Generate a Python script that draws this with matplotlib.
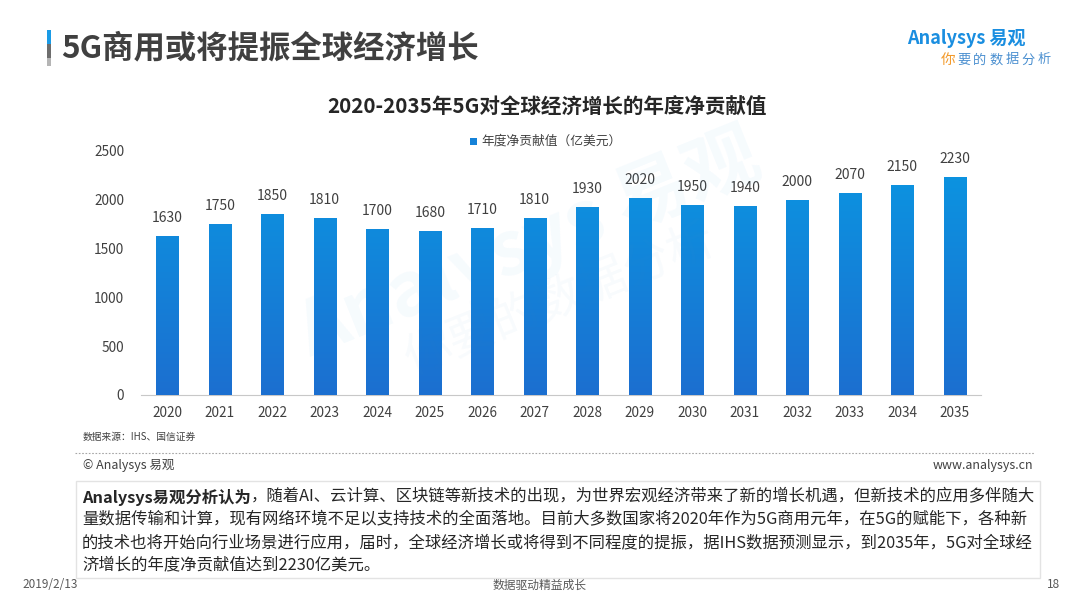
import matplotlib.pyplot as plt
import numpy as np
from matplotlib.colors import LinearSegmentedColormap
from matplotlib.patches import Rectangle
from matplotlib.lines import Line2D

plt.rcParams['font.family'] = ['Noto Sans CJK SC', 'DejaVu Sans']

years = ['2020', '2021', '2022', '2023', '2024', '2025', '2026', '2027',
         '2028', '2029', '2030', '2031', '2032', '2033', '2034', '2035']
values = [1630, 1750, 1850, 1810, 1700, 1680, 1710, 1810,
          1930, 2020, 1950, 1940, 2000, 2070, 2150, 2230]
yticks = [0, 500, 1000, 1500, 2000, 2500]

pageTitle = '5G商用或将提振全球经济增长'
chartTitle = '2020-2035年5G对全球经济增长的年度净贡献值'
legendLabel = '年度净贡献值（亿美元）'
sourceNote = '数据来源：IHS、国信证券'
slogan = '你要的数据分析'
boldLead = 'Analysys易观分析认为'
bodyLines = [
    '，随着AI、云计算、区块链等新技术的出现，为世界宏观经济带来了新的增长机遇，但新技术的应用多伴随大',
    '量数据传输和计算，现有网络环境不足以支持技术的全面落地。目前大多数国家将2020年作为5G商用元年，在5G的赋能下，各种新',
    '的技术也将开始向行业场景进行应用，届时，全球经济增长或将得到不同程度的提振，据IHS数据预测显示，到2035年，5G对全球经',
    '济增长的年度净贡献值达到2230亿美元。',
]

W, H = 1080, 608
fig = plt.figure(figsize=(W / 100, H / 100), dpi=100)
fig.patch.set_facecolor('white')

def px(x, y):
    return x / W, 1 - y / H

# page header
for (y0, y1, c) in [(30, 44, '#1a9be6'), (44, 58, '#6d6d6d'), (58, 66, '#b5b5b5')]:
    fig.add_artist(Rectangle(px(47, y1), 3.5 / W, (y1 - y0) / H,
                             transform=fig.transFigure, color=c, lw=0))
fig.text(*px(61, 48), pageTitle, fontsize=22.6, fontweight='bold',
         color='#404040', va='center', ha='left')

# logo
fig.text(*px(1026, 38), 'Analysys 易观', fontsize=13, fontweight='bold',
         color='#1a8ee0', ha='right', va='center', style='italic')
for i, ch in enumerate(slogan):
    fig.text(*px(948 + i * 16, 60), ch, fontsize=10.5 if i == 0 else 9.5,
             color='#f39a2b' if i == 0 else '#4a8fd0', ha='center', va='center')

# watermark
fig.text(*px(530, 245), 'Analysys 易观', fontsize=54, fontweight='bold',
         color='#1a8ee0', alpha=0.04, rotation=22, ha='center', va='center')
fig.text(*px(560, 300), '你要的数据分析', fontsize=34, color='#4a8fd0',
         alpha=0.04, rotation=22, ha='center', va='center')

# chart
ax = fig.add_axes([141 / W, 1 - 395 / H, 840 / W, 244 / H])
x = np.arange(len(years))
bars = ax.bar(x, values, width=0.42, color='#1582d8', zorder=2)

cmap = LinearSegmentedColormap.from_list('blu', ['#1c6fd0', '#0a97e2'])
grad = np.linspace(0, 1, 256).reshape(-1, 1)
for b in bars:
    im = ax.imshow(grad, extent=[b.get_x(), b.get_x() + b.get_width(), 0, 2500],
                   origin='lower', aspect='auto', cmap=cmap, zorder=3)
    im.set_clip_path(b)

for xi, v in zip(x, values):
    ax.annotate(str(v), (xi, v), xytext=(0, 8), textcoords='offset points',
                ha='center', va='bottom', fontsize=10, color='#404040')

ax.set_xlim(-0.5, len(years) - 0.5)
ax.set_ylim(0, 2500)
ax.set_yticks(yticks)
ax.set_xticks(x)
ax.set_xticklabels(years)
ax.tick_params(axis='both', length=0, labelsize=9.8, colors='#404040')
ax.tick_params(axis='y', pad=12)
ax.tick_params(axis='x', pad=8)
for s in ['top', 'right', 'left']:
    ax.spines[s].set_visible(False)
ax.spines['bottom'].set_color('#c8c8c8')
ax.set_facecolor('none')

fig.text(*px(547, 107), chartTitle, fontsize=14.8, fontweight='bold',
         color='#262626', ha='center', va='center')
fig.add_artist(Rectangle(px(470, 145), 7 / W, 7 / H,
                         transform=fig.transFigure, color='#1582d8', lw=0))
fig.text(*px(481, 141), legendLabel, fontsize=9.2, color='#404040',
         ha='left', va='center')

# footnotes
fig.text(*px(83, 437), sourceNote, fontsize=7, color='#404040',
         ha='left', va='center')
fig.add_artist(Line2D([75 / W, 1035 / W], [1 - 453 / H, 1 - 453 / H],
                      transform=fig.transFigure, color='#a6a6a6', lw=0.8,
                      ls=(0, (1.5, 1.5))))
fig.text(*px(83, 465), '© Analysys 易观', fontsize=9, color='#404040',
         ha='left', va='center')
fig.text(*px(1033, 465), 'www.analysys.cn', fontsize=9, color='#404040',
         ha='right', va='center')

# comment box
fig.add_artist(Rectangle(px(76, 578), 964 / W, 97 / H, transform=fig.transFigure,
                         facecolor='white', edgecolor='#e3e3e3', lw=1))
lineY = [497, 520, 543, 565]
bodySize = 11.75
lead = fig.text(*px(82, lineY[0]), boldLead, fontsize=bodySize, fontweight='bold',
                color='#262626', ha='left', va='center')
fig.add_artist(plt.Annotation(bodyLines[0], xy=(1, 0.5), xycoords=lead,
                              fontsize=bodySize, color='#262626', ha='left',
                              va='center'))
for line, yy in zip(bodyLines[1:], lineY[1:]):
    fig.text(*px(82, yy), line, fontsize=bodySize, color='#262626',
             ha='left', va='center')

# page footer
fig.text(*px(22, 585), '2019/2/13', fontsize=8.5, color='#595959',
         ha='left', va='center')
fig.text(*px(540, 585), '数据驱动精益成长', fontsize=8.5, color='#595959',
         ha='center', va='center')
fig.text(*px(1060, 585), '18', fontsize=8.5, color='#595959',
         ha='right', va='center')

fig.savefig('out.png', dpi=100)
